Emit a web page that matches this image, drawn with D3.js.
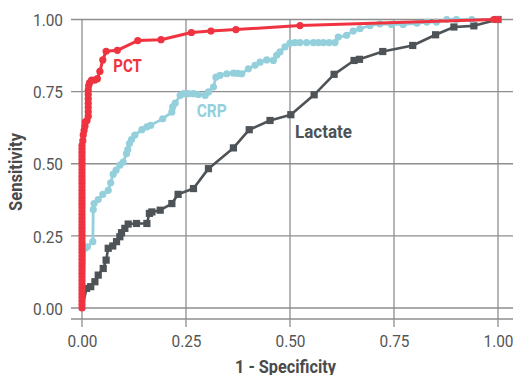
<!DOCTYPE html>
<html>
<head>
<meta charset="utf-8">
<script src="https://cdn.jsdelivr.net/npm/d3@7"></script>
<style>
  html, body { margin: 0; padding: 0; background: #fff; }
  svg { display: block; font-family: Roboto, "DejaVu Sans", sans-serif; }
</style>
</head>
<body>
<svg id="chart" width="513" height="375"></svg>
<script>
// ---- data: [1 - specificity, sensitivity] ----
const pct = [
  [0,0.000],[0,0.012],[0,0.024],[0,0.036],[0,0.048],[0,0.060],[0,0.072],[0,0.084],
  [0,0.096],[0,0.108],[0,0.120],[0,0.132],[0,0.144],[0,0.156],[0,0.168],[0,0.180],
  [0,0.192],[0,0.204],[0,0.216],[0,0.228],[0,0.240],[0,0.252],[0,0.264],[0,0.276],
  [0,0.288],[0,0.300],[0,0.312],[0,0.324],[0,0.336],[0,0.348],[0,0.360],[0,0.372],
  [0,0.384],[0,0.396],[0,0.408],[0,0.420],[0,0.432],[0,0.444],[0,0.456],[0,0.468],
  [0,0.480],[0,0.492],[0,0.504],[0,0.516],[0,0.528],[0,0.540],[0,0.552],[0,0.564],
  [0.002,0.580],[0.003,0.600],[0.005,0.615],[0.007,0.630],[0.008,0.645],[0.012,0.650],
  [0.015,0.665],[0.015,0.680],[0.015,0.695],[0.015,0.710],[0.015,0.725],[0.015,0.740],
  [0.015,0.755],[0.016,0.770],[0.018,0.780],[0.023,0.790],[0.031,0.790],[0.037,0.795],
  [0.043,0.820],[0.050,0.860],[0.058,0.890],[0.085,0.893],[0.134,0.927],[0.190,0.930],
  [0.263,0.955],[0.310,0.960],[0.370,0.965],[0.524,0.979],[0.990,1.000],[1.000,1.000]
];
const crp = [
  [0,0],[0.007,0.207],[0.013,0.212],[0.026,0.230],[0.027,0.341],[0.029,0.362],
  [0.039,0.376],[0.050,0.394],[0.063,0.408],[0.069,0.434],[0.075,0.464],[0.082,0.478],
  [0.091,0.495],[0.099,0.506],[0.107,0.535],[0.110,0.549],[0.114,0.570],[0.119,0.584],
  [0.127,0.599],[0.144,0.618],[0.156,0.628],[0.165,0.633],[0.194,0.656],[0.216,0.679],
  [0.218,0.697],[0.224,0.710],[0.236,0.737],[0.244,0.743],[0.256,0.743],[0.268,0.743],
  [0.280,0.740],[0.296,0.737],[0.304,0.749],[0.316,0.766],[0.322,0.800],[0.332,0.806],
  [0.348,0.812],[0.364,0.814],[0.374,0.813],[0.384,0.812],[0.400,0.829],[0.416,0.841],
  [0.428,0.852],[0.444,0.860],[0.460,0.858],[0.468,0.876],[0.476,0.888],[0.488,0.905],
  [0.500,0.918],[0.512,0.920],[0.524,0.920],[0.540,0.920],[0.556,0.920],[0.568,0.920],
  [0.580,0.920],[0.594,0.920],[0.608,0.920],[0.616,0.939],[0.636,0.945],[0.652,0.960],
  [0.668,0.968],[0.692,0.979],[0.716,0.985],[0.744,0.983],[0.772,0.983],[0.805,0.987],
  [0.829,0.991],[0.852,0.991],[0.877,1.000],[0.900,1.000],[0.937,1.000],[1.000,1.000]
];
const lactate = [
  [0,0],[0.011,0.068],[0.021,0.074],[0.031,0.091],[0.039,0.114],[0.051,0.137],
  [0.058,0.166],[0.063,0.207],[0.074,0.215],[0.083,0.230],[0.091,0.247],[0.095,0.261],
  [0.103,0.276],[0.111,0.291],[0.131,0.293],[0.156,0.293],[0.162,0.328],[0.168,0.333],
  [0.188,0.339],[0.216,0.362],[0.231,0.394],[0.268,0.414],[0.304,0.483],[0.364,0.555],
  [0.402,0.618],[0.452,0.650],[0.502,0.670],[0.558,0.739],[0.606,0.810],[0.654,0.858],
  [0.667,0.862],[0.723,0.889],[0.795,0.910],[0.850,0.947],[0.894,0.974],[0.942,0.978],
  [1.000,1.000]
];
const ticks = [0, 0.25, 0.5, 0.75, 1];
const tickLabels = ["0.00", "0.25", "0.50", "0.75", "1.00"];
const seriesNames = ["PCT", "CRP", "Lactate"];

// ---- layout ----
const svg = d3.select("#chart");
const x = d3.scaleLinear().domain([0, 1]).range([82, 498]);
const y = d3.scaleLinear().domain([0, 1]).range([308, 19.5]);
const gridColor = "#8e8e8e";
const textColor = "#555555";
const red = "#ef3340", blue = "#94d0dc", gray = "#4d5357";

// grid
const grid = svg.append("g");
grid.selectAll("line.h").data(ticks).join("line")
  .attr("x1", 71).attr("x2", 513)
  .attr("y1", d => y(d)).attr("y2", d => y(d))
  .attr("stroke", gridColor).attr("stroke-width", 1.3);
grid.selectAll("line.v").data(ticks).join("line")
  .attr("x1", d => x(d)).attr("x2", d => x(d))
  .attr("y1", y(1)).attr("y2", 327)
  .attr("stroke", gridColor).attr("stroke-width", 1.3);
grid.append("line").attr("x1", 71).attr("x2", 513).attr("y1", 319).attr("y2", 319)
  .attr("stroke", gridColor).attr("stroke-width", 1.3);

// axis labels via d3 axes (no domain/ticks, just text)
const xAxis = svg.append("g").attr("transform", "translate(0,319)")
  .call(d3.axisBottom(x).tickValues(ticks).tickFormat((d, i) => tickLabels[i]).tickSize(0).tickPadding(28));
const yAxis = svg.append("g").attr("transform", "translate(71,0)")
  .call(d3.axisLeft(y).tickValues(ticks).tickFormat((d, i) => tickLabels[i]).tickSize(0).tickPadding(8));
[xAxis, yAxis].forEach(g => {
  g.select(".domain").remove();
  g.selectAll("text").attr("fill", textColor).style("font-size", "17px")
    .style("font-family", "Roboto, sans-serif")
    .attr("textLength", 30).attr("lengthAdjust", "spacingAndGlyphs");
});
xAxis.selectAll("text").attr("dy", 0);
yAxis.selectAll("text").attr("dy", "0.36em");

// axis titles
svg.append("text").attr("x", 285.5).attr("y", 372.5).attr("text-anchor", "middle")
  .attr("fill", "#4a4a4a").style("font-size", "18px").style("font-weight", "bold")
  .attr("textLength", 101).attr("lengthAdjust", "spacingAndGlyphs")
  .text("1 - Specificity");
svg.append("text").attr("transform", "translate(21.5,172) rotate(-90)")
  .attr("text-anchor", "middle")
  .attr("fill", "#4a4a4a").style("font-size", "18px").style("font-weight", "bold")
  .attr("textLength", 78).attr("lengthAdjust", "spacingAndGlyphs")
  .text("Sensitivity");

// curves
const line = d3.line().x(d => x(d[0])).y(d => y(d[1]));
function drawLine(data, color, w) {
  svg.append("path").datum(data).attr("d", line)
    .attr("fill", "none").attr("stroke", color).attr("stroke-width", w)
    .attr("stroke-linejoin", "round");
}
// Lactate
drawLine(lactate, gray, 2.6);
svg.append("g").selectAll("rect").data(lactate.slice(1)).join("rect")
  .attr("x", d => x(d[0]) - 3.6).attr("y", d => y(d[1]) - 3.6)
  .attr("width", 7.2).attr("height", 7.2).attr("fill", gray);
// CRP
drawLine(crp, blue, 2.8);
svg.append("g").selectAll("circle").data(crp.slice(1)).join("circle")
  .attr("cx", d => x(d[0])).attr("cy", d => y(d[1])).attr("r", 3.6).attr("fill", blue);
// PCT
drawLine(pct, red, 3);
svg.append("g").selectAll("circle").data(pct).join("circle")
  .attr("cx", d => x(d[0])).attr("cy", d => y(d[1])).attr("r", 3.6).attr("fill", red);

// series labels
const labelPos = [
  { x: 113.3, y: 71.7, w: 28.5, c: red },
  { x: 196.7, y: 117.3, w: 30, c: blue },
  { x: 295, y: 138.3, w: 57, c: gray }
];
svg.append("g").selectAll("text").data(seriesNames).join("text")
  .attr("x", (d, i) => labelPos[i].x).attr("y", (d, i) => labelPos[i].y)
  .attr("fill", (d, i) => labelPos[i].c)
  .style("font-size", "19px").style("font-weight", "bold")
  .attr("textLength", (d, i) => labelPos[i].w).attr("lengthAdjust", "spacingAndGlyphs")
  .text(d => d);
</script>
</body>
</html>
